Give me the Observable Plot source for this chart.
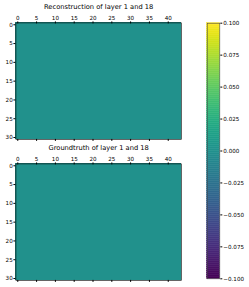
<!DOCTYPE html>
<html>
<head>
<meta charset="utf-8">
<script src="https://cdn.jsdelivr.net/npm/d3@7"></script>
<script src="https://cdn.jsdelivr.net/npm/@observablehq/plot@0.6"></script>
<style>
  html, body { margin: 0; padding: 0; background: #fff; }
  #wrap { position: relative; width: 249px; height: 287px; font-family: "DejaVu Sans", sans-serif; color: #000; }
  .abs { position: absolute; }
</style>
</head>
<body>
<div id="wrap"></div>
<script>
// ---- data ----
const titles = ["Reconstruction of layer 1 and 18", "Groundtruth of layer 1 and 18"];
const nRows = 31;
const nCols = 44;
const rows = d3.range(nRows);
const cols = d3.range(nCols);
const xTicks = [0, 5, 10, 15, 20, 25, 30, 35, 40];
const yTicks = [0, 5, 10, 15, 20, 25, 30];
const colorDomain = [-0.1, 0.1];
const cbarTicks = [-0.1, -0.075, -0.05, -0.025, 0, 0.025, 0.05, 0.075, 0.1];
// every cell of both layers reads 0.0 (uniform viridis mid colour)
const reconstruction = rows.map(() => cols.map(() => 0));
const groundtruth = rows.map(() => cols.map(() => 0));

const wrap = document.getElementById("wrap");
const style = {background: "transparent", fontFamily: "DejaVu Sans, sans-serif", fontSize: "5.6px", color: "#000", overflow: "visible"};

function toCells(grid) {
  const out = [];
  grid.forEach((row, r) => row.forEach((v, c) => out.push({r, c, v})));
  return out;
}

function heatmap(grid, top, title) {
  const W = 200, H = 145;
  const p = Plot.plot({
    width: W, height: H,
    marginLeft: 15.4, marginRight: W - 180.9, marginTop: 22.4, marginBottom: H - 138.9,
    style,
    x: {type: "band", domain: cols, padding: 0, round: false, label: null},
    y: {type: "band", domain: rows, padding: 0, round: false, label: null},
    color: {type: "linear", scheme: "viridis", domain: colorDomain},
    marks: [
      Plot.cell(toCells(grid), {x: "c", y: "r", fill: "v", inset: 0, shapeRendering: "crispEdges"}),
      Plot.frame({stroke: "#000", strokeWidth: 0.6}),
      Plot.axisX(xTicks, {anchor: "top", tickSize: 2, tickPadding: 1.2, label: null}),
      Plot.axisX(xTicks, {anchor: "bottom", tickSize: 2, tickFormat: () => "", label: null}),
      Plot.axisY(yTicks, {anchor: "left", tickSize: 2, tickPadding: 1.2, label: null}),
      Plot.text([title], {frameAnchor: "top", lineAnchor: "bottom", dy: -13.6, fontSize: 6.7, fill: "#000"})
    ]
  });
  p.classList.add("abs");
  p.style.left = "0px";
  p.style.top = top + "px";
  wrap.appendChild(p);
}

heatmap(reconstruction, 0, titles[0]);
heatmap(groundtruth, 140.8, titles[1]);

// colorbar
const steps = 128;
const strips = d3.range(steps).map(i => {
  const a = colorDomain[0] + (colorDomain[1] - colorDomain[0]) * i / steps;
  const b = colorDomain[0] + (colorDomain[1] - colorDomain[0]) * (i + 1) / steps;
  return {a, b, m: (a + b) / 2};
});
const CW = 49, CH = 287;
const cb = Plot.plot({
  width: CW, height: CH,
  marginLeft: 6.7, marginRight: CW - 19.3, marginTop: 22.7, marginBottom: CH - 278.3,
  style,
  x: {domain: [0, 1], axis: null},
  y: {domain: colorDomain, axis: "right", ticks: cbarTicks, tickFormat: d3.format(".3f"), tickSize: 2, tickPadding: 1.5, label: null},
  color: {type: "linear", scheme: "viridis", domain: colorDomain},
  marks: [
    Plot.rect(strips, {x1: 0, x2: 1, y1: "a", y2: "b", fill: "m", stroke: "m", strokeWidth: 0.5}),
    Plot.frame({stroke: "#444", strokeWidth: 0.6})
  ]
});
cb.classList.add("abs");
cb.style.left = "200px";
cb.style.top = "0px";
wrap.appendChild(cb);
</script>
</body>
</html>
